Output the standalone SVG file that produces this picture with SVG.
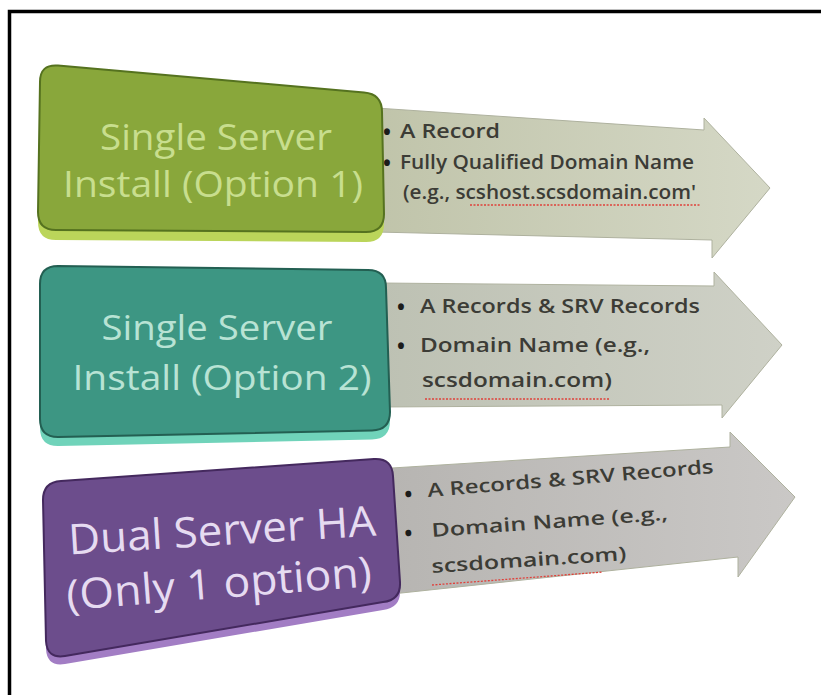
<svg xmlns="http://www.w3.org/2000/svg" width="821" height="695" viewBox="0 0 821 695">
<defs>
<linearGradient id="ga1" x1="0" y1="0" x2="1" y2="0"><stop offset="0" stop-color="#c0c4aa"/><stop offset="1" stop-color="#d5d8c6"/></linearGradient>
<linearGradient id="ga2" x1="0" y1="0" x2="1" y2="0"><stop offset="0" stop-color="#bdc1b3"/><stop offset="1" stop-color="#cfd1c7"/></linearGradient>
<linearGradient id="ga3" x1="0" y1="0" x2="1" y2="0"><stop offset="0" stop-color="#b7b5b2"/><stop offset="1" stop-color="#cac8c6"/></linearGradient>
</defs>
<style>
.bt{font-family:"Open Sans",Lato,sans-serif;text-anchor:middle}
.at{font-family:"Open Sans",Lato,sans-serif;font-size:19px;font-weight:600;fill:#3c3c36}
.bu{font-family:"Open Sans",Lato,sans-serif;font-size:21px;font-weight:700;fill:#1c1c1a}
.sq{fill:none;stroke:#e0403a;stroke-width:1.3;stroke-dasharray:2 1.5}
.arr{stroke:#aeb19e;stroke-width:1}
</style>
<rect width="821" height="695" fill="#ffffff"/>
<path d="M9.5,695 V11.5 H821" fill="none" stroke="#000" stroke-width="3.5"/>

<g id="arrow1">
<path class="arr" d="M376,108 L704,130 L704,118 L770,188 L712,258 L712,240 L376,232 Z" fill="url(#ga1)"/>
<text class="bu" x="383" y="140">•</text>
<text class="at" x="400" y="138" textLength="100" lengthAdjust="spacingAndGlyphs">A Record</text>
<text class="bu" x="383" y="171">•</text>
<text class="at" x="400" y="169" textLength="294" lengthAdjust="spacingAndGlyphs">Fully Qualified Domain Name</text>
<text class="at" x="403" y="199" textLength="293" lengthAdjust="spacingAndGlyphs">(e.g., scshost.scsdomain.com'</text>
<path class="sq" d="M470,205 l230,0"/>
</g>

<g id="arrow2">
<path class="arr" d="M380,283 L714,286 L714,272 L782,345 L722,418 L722,405 L380,407 Z" fill="url(#ga2)"/>
<text class="bu" x="397" y="315">•</text>
<text class="at" x="420" y="313" textLength="280" lengthAdjust="spacingAndGlyphs">A Records &amp; SRV Records</text>
<text class="bu" x="397" y="354">•</text>
<text class="at" x="420" y="352" textLength="230" lengthAdjust="spacingAndGlyphs">Domain Name (e.g.,</text>
<text class="at" x="422" y="387" textLength="190" lengthAdjust="spacingAndGlyphs">scsdomain.com)</text>
<path class="sq" d="M425,399 l185,0"/>
</g>

<g id="arrow3">
<path class="arr" d="M392,468 L730,447 L730,432 L795,497 L738,577 L738,557 L392,594 Z" fill="url(#ga3)"/>
<text class="bu" x="405" y="502" transform="rotate(-4.5 405 502)">•</text>
<text class="at" x="428" y="497" textLength="287" lengthAdjust="spacingAndGlyphs" transform="rotate(-4.8 428 497)">A Records &amp; SRV Records</text>
<text class="bu" x="405" y="541" transform="rotate(-4.5 405 541)">•</text>
<text class="at" x="432" y="537" textLength="237" lengthAdjust="spacingAndGlyphs" transform="rotate(-4.2 432 537)">Domain Name (e.g.,</text>
<text class="at" x="432" y="573" textLength="195" lengthAdjust="spacingAndGlyphs" transform="rotate(-3.8 432 573)">scsdomain.com)</text>
<path class="sq" d="M432,585 L603,572"/>
</g>

<g id="box1">
<path d="M58,74.5 L364,101.5 Q382,103 382,121 L384,224 Q384,242 366,242 L56,240 Q38,240 38,222 L40,91 Q40,73 58,74.5 Z" fill="#bbd55a"/>
<path d="M58,65.5 L364,92.5 Q382,94 382,112 L384,214 Q384,232 366,232 L56,230 Q38,230 38,212 L40,82 Q40,64 58,65.5 Z" fill="#89a73b" stroke="#55721f" stroke-width="2"/>
<text class="bt" x="216" y="150" font-size="37" fill="#c8de8e" textLength="232" lengthAdjust="spacingAndGlyphs">Single Server</text>
<text class="bt" x="213" y="197" font-size="37" fill="#c8de8e" textLength="300" lengthAdjust="spacingAndGlyphs">Install (Option 1)</text>
</g>

<g id="box2">
<path d="M58,275 L368,279 Q386,279 386,297 L390,421 Q390,439 372,439.5 L58,446 Q40,446 40,428 L40,293 Q40,275 58,275 Z" fill="#70d3ba"/>
<path d="M58,266 L368,270 Q386,270 386,288 L390,412 Q390,430 372,430.5 L58,437 Q40,437 40,419 L40,284 Q40,266 58,266 Z" fill="#3d9683" stroke="#235f52" stroke-width="2"/>
<text class="bt" x="217" y="340" font-size="35" fill="#b8e3d4" textLength="231" lengthAdjust="spacingAndGlyphs">Single Server</text>
<text class="bt" x="222" y="390" font-size="35" fill="#b8e3d4" textLength="299" lengthAdjust="spacingAndGlyphs">Install (Option 2)</text>
</g>

<g id="box3">
<path d="M61,489 L374,467 Q392,466 393,484 L400,590 Q401,608 383,610 L65,664 Q47,667 46,649 L43,508 Q43,490 61,489 Z" fill="#a27dc4"/>
<path d="M61,481 L374,459 Q392,458 393,476 L400,582 Q401,600 383,602 L65,656 Q47,659 46,641 L43,500 Q43,482 61,481 Z" fill="#6c4d8c" stroke="#44295e" stroke-width="2"/>
<text class="bt" x="223" y="545" font-size="42" fill="#e6dbf1" textLength="308" lengthAdjust="spacingAndGlyphs" transform="rotate(-3.5 223 545)">Dual Server HA</text>
<text class="bt" x="220" y="598" font-size="42" fill="#e6dbf1" textLength="306" lengthAdjust="spacingAndGlyphs" transform="rotate(-4.5 220 598)">(Only 1 option)</text>
</g>
</svg>
